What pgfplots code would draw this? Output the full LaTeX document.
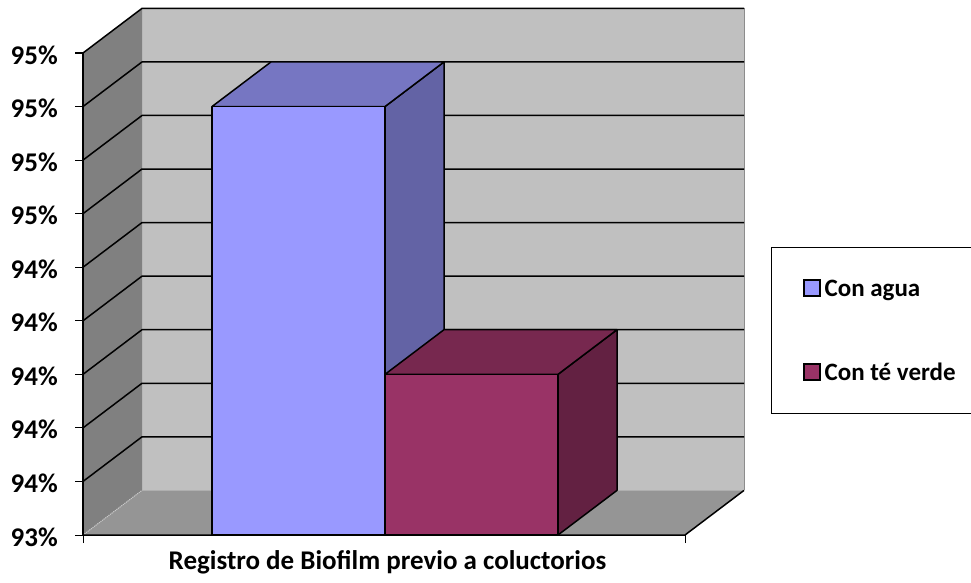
\documentclass[border=0pt]{standalone}
\usepackage{fontspec}
\setmainfont{Carlito}
\usepackage{pgfplots}
\pgfplotsset{compat=1.18}

% face colours of the 3-D columns and of the chart walls
\definecolor{aguaFront}{HTML}{9999FF}
\definecolor{aguaTop}{HTML}{7676C2}
\definecolor{aguaSide}{HTML}{6363A5}
\definecolor{teFront}{HTML}{993366}
\definecolor{teTop}{HTML}{77284F}
\definecolor{teSide}{HTML}{632142}
\definecolor{wallBack}{HTML}{C0C0C0}
\definecolor{wallSide}{HTML}{808080}
\definecolor{wallFloor}{HTML}{959595}
\definecolor{edgeGray}{HTML}{8C8C8C}

\newcommand{\tickfont}{\fontsize{27}{32}\selectfont\bfseries}
\newcommand{\legendfont}{\fontsize{25}{30}\selectfont\bfseries}

\pgfplotsset{
  face/.style={line width=1.5pt, draw=black, line join=round, forget plot},
  grid3d/.style={line width=1.5pt, draw=black, line join=round, forget plot},
  sqlegend/.style={legend image code/.code={%
      \path (0pt,0pt);
      \draw[##1, line width=1.5pt] (14pt,-8pt) rectangle (30pt,8pt);}},
}

\begin{document}
\begin{tikzpicture}[x=1pt,y=1pt]
\path[use as bounding box] (0,0) rectangle (971,582);
\begin{axis}[
  at={(83pt,47pt)}, anchor=south west,
  scale only axis, width=602pt, height=482pt,
  % the axis box is the front plane; the walls recede by 59 x-units and 0.16667 y-units
  xmin=83, xmax=685,
  ymin=93.4, ymax=95.2,
  clip=false,
  axis x line*=bottom, axis y line*=left,
  axis line style={black, line width=1.5pt},
  xtick={83,685}, xticklabels={{},{}},
  ytick={93.4,93.6,93.8,94.0,94.2,94.4,94.6,94.8,95.0,95.2},
  yticklabel={\pgfmathprintnumber[fixed,precision=0,assume math mode=true]{\tick}\%},
  yticklabel style={font=\tickfont, anchor=east, inner sep=0pt,
                    text height=17pt, text depth=0pt, yshift=-2.5pt, xshift=-17pt},
  tick align=outside, major tick length=8pt,
  tick style={black, line width=1pt},
  xlabel={Registro de Biofilm previo a coluctorios},
  xlabel style={at={(axis description cs:0.5058,0)}, anchor=base,
                yshift=-34pt, font=\tickfont, inner sep=0pt},
  legend cell align=left,
  legend style={at={(axis description cs:1.1429,0.5975)}, anchor=north west,
                draw=black, line width=0.8pt, fill=white,
                inner xsep=18pt, inner ysep=32pt, row sep=66.5pt,
                font=\legendfont,
                nodes={inner sep=0pt, text height=16pt, text depth=0pt},
                /tikz/every odd column/.style={column sep=4pt}},
]

% ---- walls and floor ----
\addplot[fill=wallBack, draw=none, forget plot]
  coordinates {(142,93.56667) (744,93.56667) (744,95.36667) (142,95.36667) (142,93.56667)};
\addplot[fill=wallSide, draw=none, forget plot]
  coordinates {(83,93.4) (142,93.56667) (142,95.36667) (83,95.2) (83,93.4)};
\addplot[fill=wallFloor, draw=none, forget plot]
  coordinates {(83,93.4) (685,93.4) (744,93.56667) (142,93.56667) (83,93.4)};
\addplot[draw=edgeGray, line width=1pt, forget plot]
  coordinates {(744,93.56667) (744,95.36667)};
\addplot[draw=edgeGray!70, line width=0.8pt, forget plot]
  coordinates {(142,93.56667) (744,93.56667)};
\addplot[draw=gray!40, line width=1pt, densely dotted, forget plot]
  coordinates {(83,93.4) (142,93.56667)};

% ---- gridlines: across the side wall, then along the back wall ----
\addplot[grid3d] coordinates {(83,93.6) (142,93.76667) (744,93.76667)};
\addplot[grid3d] coordinates {(83,93.8) (142,93.96667) (744,93.96667)};
\addplot[grid3d] coordinates {(83,94.0) (142,94.16667) (744,94.16667)};
\addplot[grid3d] coordinates {(83,94.2) (142,94.36667) (744,94.36667)};
\addplot[grid3d] coordinates {(83,94.4) (142,94.56667) (744,94.56667)};
\addplot[grid3d] coordinates {(83,94.6) (142,94.76667) (744,94.76667)};
\addplot[grid3d] coordinates {(83,94.8) (142,94.96667) (744,94.96667)};
\addplot[grid3d] coordinates {(83,95.0) (142,95.16667) (744,95.16667)};
\addplot[grid3d] coordinates {(83,95.2) (142,95.36667) (744,95.36667)};

% ---- front and right edges of the box ----
\addplot[grid3d] coordinates {(83,95.2) (83,93.4) (685,93.4) (744,93.56667)};

% ---- column "Con agua": 95.0 ----
\addplot[face, fill=aguaSide]
  coordinates {(385,93.4) (385,95.0) (444,95.16667) (444,93.56667) (385,93.4)};
\addplot[face, fill=aguaTop]
  coordinates {(212,95.0) (385,95.0) (444,95.16667) (271,95.16667) (212,95.0)};
\addplot[face, fill=aguaFront]
  coordinates {(212,93.4) (385,93.4) (385,95.0) (212,95.0) (212,93.4)};

% ---- column "Con té verde": 94.0 ----
\addplot[face, fill=teSide]
  coordinates {(558,93.4) (558,94.0) (617,94.16667) (617,93.56667) (558,93.4)};
\addplot[face, fill=teTop]
  coordinates {(385,94.0) (558,94.0) (617,94.16667) (444,94.16667) (385,94.0)};
\addplot[face, fill=teFront]
  coordinates {(385,93.4) (558,93.4) (558,94.0) (385,94.0) (385,93.4)};

% ---- legend ----
\addlegendimage{sqlegend, fill=aguaFront, draw=black}
\addlegendentry{Con agua}
\addlegendimage{sqlegend, fill=teFront, draw=black}
\addlegendentry{Con té verde}

\end{axis}
\end{tikzpicture}
\end{document}
